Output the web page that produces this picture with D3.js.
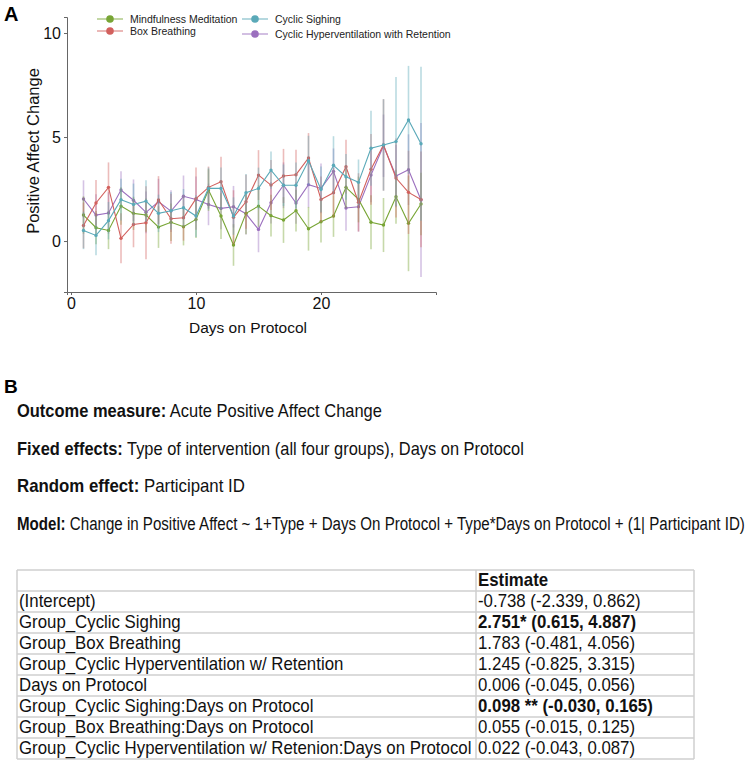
<!DOCTYPE html>
<html>
<head>
<meta charset="utf-8">
<script src="https://cdn.jsdelivr.net/npm/d3@7"></script>
<style>
  body { margin: 0; background: #fff; }
  text { font-family: "Liberation Sans", Arial, sans-serif; }
</style>
</head>
<body>
<svg id="fig" width="747" height="769"></svg>
<script>
// ---- data ----
const days = [1,2,3,4,5,6,7,8,9,10,11,12,13,14,15,16,17,18,19,20,21,22,23,24,25,26,27,28];

const mindfulness = [1.25,0.64,0.51,1.68,1.33,1.25,0.67,0.90,0.69,1.04,2.45,1.20,-0.19,1.33,1.68,1.22,1.01,1.46,0.59,0.93,1.20,2.58,2.00,0.90,0.77,2.13,0.85,1.78];
const mindfulnessErr = [0.9,0.8,0.9,0.9,0.8,0.8,1.0,0.9,0.9,0.9,1.0,1.1,1.0,1.0,1.0,1.0,1.1,1.0,1.05,1.0,1.0,1.0,1.1,1.3,1.3,1.3,2.3,1.5];

const boxBreathing = [0.75,1.83,2.58,0.13,0.80,0.88,1.97,1.07,1.12,2.04,2.58,2.85,1.14,1.89,3.17,2.69,3.13,3.19,3.99,2.00,2.32,3.57,1.86,3.45,4.62,3.03,2.34,2.00];
const boxBreathingErr = [1.1,1.1,1.2,1.2,1.1,1.75,1.15,1.2,1.1,1.5,1.0,1.2,1.3,1.3,1.2,1.2,1.3,1.2,1.2,1.1,1.2,1.3,1.4,1.7,2.2,1.9,2.0,2.3];

const cyclicSighing = [0.51,0.27,0.98,1.99,1.76,1.92,1.33,1.46,1.60,1.20,2.53,2.53,1.20,2.32,2.53,3.41,2.68,2.68,3.86,2.48,3.64,3.09,2.82,4.46,4.62,4.78,5.82,4.68];
const cyclicSighingErr = [0.9,0.95,0.9,1.0,1.0,1.0,0.9,0.9,0.9,1.0,1.0,1.0,0.9,0.9,1.0,0.9,1.0,1.1,1.2,1.1,1.4,1.1,1.1,1.8,2.2,3.1,2.6,3.7];

const hyperventilation = [2.02,1.25,1.35,2.45,1.96,1.38,1.89,1.44,2.15,2.00,1.76,1.57,1.65,1.31,0.56,1.84,2.68,1.83,2.71,2.53,3.35,1.59,1.65,3.17,4.58,3.13,3.43,1.97];
const hyperventilationErr = [0.9,1.0,1.0,0.9,1.0,1.0,1.1,1.0,1.0,1.1,1.0,1.0,1.0,1.0,1.1,1.0,1.1,1.0,1.1,1.2,1.1,1.1,1.2,1.3,1.5,1.5,1.7,3.7];

const xTicks = [0, 10, 20];
const yTicks = [0, 5, 10];

// draw order: back to front
const seriesList = [
  { name: 'Cyclic Hyperventilation with Retention', color: '#9b6fbe', values: hyperventilation, err: hyperventilationErr },
  { name: 'Mindfulness Meditation', color: '#78a535', values: mindfulness, err: mindfulnessErr },
  { name: 'Box Breathing', color: '#d2605d', values: boxBreathing, err: boxBreathingErr },
  { name: 'Cyclic Sighing', color: '#5aa9b8', values: cyclicSighing, err: cyclicSighingErr }
];

const legendOrder = ['Mindfulness Meditation', 'Box Breathing', 'Cyclic Sighing', 'Cyclic Hyperventilation with Retention'];

// table B
const tableTerms = ['(Intercept)', 'Group_Cyclic Sighing', 'Group_Box Breathing', 'Group_Cyclic Hyperventilation w/ Retention',
  'Days on Protocol', 'Group_Cyclic Sighing:Days on Protocol', 'Group_Box Breathing:Days on Protocol',
  'Group_Cyclic Hyperventilation w/ Retenion:Days on Protocol'];
const tableEstimates = ['-0.738 (-2.339, 0.862)', '2.751* (0.615, 4.887)', '1.783 (-0.481, 4.056)', '1.245 (-0.825, 3.315)',
  '0.006 (-0.045, 0.056)', '0.098 ** (-0.030, 0.165)', '0.055 (-0.015, 0.125)', '0.022 (-0.043, 0.087)'];
const tableBold = [false, true, false, false, false, true, false, false];

const modelLines = [
  ['Outcome measure:', ' Acute Positive Affect Change'],
  ['Fixed effects:', ' Type of intervention (all four groups), Days on Protocol'],
  ['Random effect:', ' Participant ID'],
  ['Model:', ' Change in Positive Affect ~ 1+Type + Days On Protocol + Type*Days on Protocol + (1| Participant ID)']
];

const svg = d3.select('#fig');

// ---- panel A ----
const x = d3.scaleLinear().domain([-0.32, 29.2]).range([67, 436]);
const y = d3.scaleLinear().domain([-2.45, 10.77]).range([292, 17]);

svg.append('text').attr('x', 4).attr('y', 21).attr('font-size', 20).attr('font-weight', 'bold').text('A');

const xAxis = svg.append('g').attr('transform', 'translate(0,292)')
  .call(d3.axisBottom(x).tickValues(xTicks).tickSize(3).tickPadding(3));
const yAxis = svg.append('g').attr('transform', 'translate(67,0)')
  .call(d3.axisLeft(y).tickValues(yTicks).tickSize(3).tickPadding(3));
[xAxis, yAxis].forEach(a => {
  a.select('.domain').attr('stroke', '#666').attr('stroke-width', 1);
  a.selectAll('.tick line').attr('stroke', '#666');
  a.selectAll('.tick text').attr('font-size', 16).attr('fill', '#111')
    .attr('font-family', '"Liberation Sans", Arial, sans-serif');
});

svg.append('text').attr('x', 248).attr('y', 333).attr('text-anchor', 'middle')
  .attr('font-size', 15.5).attr('fill', '#111').text('Days on Protocol');
svg.append('text').attr('transform', 'translate(39,151) rotate(-90)').attr('text-anchor', 'middle')
  .attr('font-size', 16.5).attr('fill', '#111').text('Positive Affect Change');

const line = d3.line().x(d => x(d.day)).y(d => y(d.v));

seriesList.forEach(s => {
  const pts = days.map((d, i) => ({ day: d, v: s.values[i], e: s.err[i] }));
  const g = svg.append('g');
  g.selectAll('line.err').data(pts).join('line')
    .attr('x1', d => x(d.day)).attr('x2', d => x(d.day))
    .attr('y1', d => y(d.v - d.e)).attr('y2', d => y(d.v + d.e))
    .attr('stroke', s.color).attr('stroke-width', 1.6).attr('stroke-opacity', 0.42);
  g.append('path').datum(pts).attr('d', line)
    .attr('fill', 'none').attr('stroke', s.color).attr('stroke-width', 1.1);
  g.selectAll('circle').data(pts).join('circle')
    .attr('cx', d => x(d.day)).attr('cy', d => y(d.v)).attr('r', 1.7).attr('fill', s.color);
});

// legend
const legendCols = [97, 242];
const legendRows = [[19, 31], [19, 34]];
legendOrder.forEach((name, i) => {
  const s = seriesList.find(t => t.name === name);
  const col = Math.floor(i / 2), row = i % 2;
  const lx = legendCols[col], ly = legendRows[col][row];
  const g = svg.append('g');
  g.append('line').attr('x1', lx).attr('x2', lx + 26).attr('y1', ly).attr('y2', ly)
    .attr('stroke', s.color).attr('stroke-width', 1.5).attr('stroke-opacity', 0.6);
  g.append('circle').attr('cx', lx + 13).attr('cy', ly).attr('r', 3.8).attr('fill', s.color);
  g.append('text').attr('x', lx + 33).attr('y', ly + 3.5).attr('font-size', 10.5).attr('fill', '#222').text(name);
});

// ---- panel B ----
svg.append('text').attr('x', 4).attr('y', 393).attr('font-size', 19).attr('font-weight', 'bold').text('B');

// condensed look: draw at full size, then squeeze each line to the width it has in the figure
const lineY = [417, 455, 492, 530];
const lineW = [365, 507, 228, 728];
modelLines.forEach((parts, i) => {
  const t = svg.append('text').attr('font-size', 18).attr('fill', '#111');
  t.append('tspan').attr('font-weight', 'bold').text(parts[0]);
  t.append('tspan').text(parts[1]);
  const sx = lineW[i] / t.node().getComputedTextLength();
  t.attr('transform', `translate(17,${lineY[i]}) scale(${sx},1)`);
});

const tx0 = 17, tx1 = 476, tx2 = 694, ty0 = 570, rowH = 21;
const rows = [{ term: '', est: 'Estimate', bold: true }]
  .concat(tableTerms.map((t, i) => ({ term: t, est: tableEstimates[i], bold: tableBold[i] })));

const tbl = svg.append('g');
tbl.selectAll('line.h').data(d3.range(rows.length + 1)).join('line')
  .attr('x1', tx0).attr('x2', tx2).attr('y1', i => ty0 + i * rowH).attr('y2', i => ty0 + i * rowH)
  .attr('stroke', '#cfcfcf').attr('stroke-width', 1.5);
tbl.selectAll('line.v').data([tx0, tx1, tx2]).join('line')
  .attr('x1', d => d).attr('x2', d => d).attr('y1', ty0).attr('y2', ty0 + rows.length * rowH)
  .attr('stroke', '#cfcfcf').attr('stroke-width', 1.5);

const cells = [];
rows.forEach((r, i) => {
  const by = ty0 + i * rowH + 16;
  cells.push({ t: tbl.append('text').attr('font-size', 18).attr('fill', '#111').text(r.term), x: tx0 + 2, y: by });
  cells.push({ t: tbl.append('text').attr('font-size', 18).attr('fill', '#111')
    .attr('font-weight', r.bold ? 'bold' : 'normal').text(r.est), x: tx1 + 2, y: by });
});
const longest = d3.max(cells, c => c.t.node().getComputedTextLength());
const sxTable = 453 / longest;
cells.forEach(c => c.t.attr('transform', `translate(${c.x},${c.y}) scale(${sxTable},1)`));
</script>
</body>
</html>
